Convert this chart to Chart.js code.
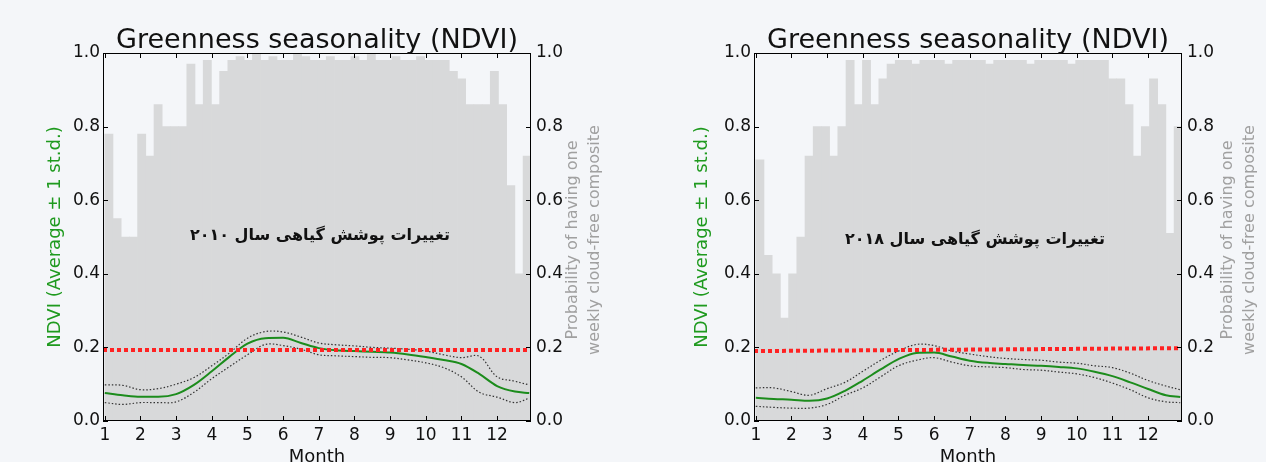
<!DOCTYPE html>
<html>
<head>
<meta charset="utf-8">
<script src="https://cdn.jsdelivr.net/npm/chart.js@4.4.0/dist/chart.umd.min.js"></script>
<style>
  html, body { margin: 0; padding: 0; background: #f4f6f9; }
  #wrap { position: relative; width: 1266px; height: 462px; overflow: hidden; }
  .panel { position: absolute; top: 0; width: 633px; height: 462px; }
</style>
</head>
<body>
<div id="wrap">
  <div class="panel" style="left:0"><canvas id="chart2010"></canvas></div>
  <div class="panel" style="left:633px"><canvas id="chart2018"></canvas></div>
</div>
<script>
// x positions (month) of the sampled NDVI curve points
const curveMonths = [1, 1.5, 2, 2.5, 3, 3.5, 4, 4.5, 5, 5.5, 6, 6.5, 7, 7.5, 8, 8.5, 9, 9.5, 10, 10.5, 11, 11.5, 12, 12.5, 12.9];
const monthTicks = [1, 2, 3, 4, 5, 6, 7, 8, 9, 10, 11, 12];
const valueTicks = [0, 0.2, 0.4, 0.6, 0.8, 1.0];
const thresholdMonths = [0.95, 12.95];

// 2010
const mean2010  = [0.076, 0.070, 0.066, 0.066, 0.073, 0.098, 0.135, 0.175, 0.210, 0.225, 0.226, 0.212, 0.198, 0.192, 0.190, 0.188, 0.186, 0.181, 0.174, 0.166, 0.155, 0.128, 0.095, 0.080, 0.076];
const upper2010 = [0.098, 0.097, 0.085, 0.088, 0.100, 0.118, 0.150, 0.185, 0.225, 0.243, 0.242, 0.228, 0.212, 0.207, 0.204, 0.200, 0.198, 0.195, 0.190, 0.180, 0.172, 0.176, 0.120, 0.108, 0.098];
const lower2010 = [0.050, 0.045, 0.050, 0.050, 0.052, 0.078, 0.115, 0.148, 0.180, 0.208, 0.205, 0.195, 0.180, 0.177, 0.175, 0.173, 0.172, 0.166, 0.158, 0.145, 0.120, 0.078, 0.065, 0.050, 0.062];
const threshold2010 = [0.193, 0.193];
const cloudFree2010 = [
  0.78, 0.55, 0.50, 0.50, 0.78, 0.72, 0.86, 0.80, 0.80, 0.80, 0.97, 0.86, 0.98,
  0.86, 0.95, 0.98, 0.99, 0.98, 1.00, 0.98, 0.99, 0.98, 0.98, 1.00, 0.99, 0.98,
  0.98, 0.99, 0.98, 0.98, 0.99, 0.98, 1.00, 0.98, 0.98, 0.99, 0.98, 0.98, 0.99,
  0.98, 0.98, 0.98, 0.95, 0.93, 0.86, 0.86, 0.86, 0.95, 0.86, 0.64, 0.40, 0.72
];

// 2018
const mean2018  = [0.063, 0.060, 0.058, 0.055, 0.061, 0.082, 0.110, 0.140, 0.168, 0.185, 0.186, 0.175, 0.164, 0.158, 0.155, 0.152, 0.150, 0.147, 0.143, 0.134, 0.122, 0.105, 0.087, 0.070, 0.065];
const upper2018 = [0.090, 0.090, 0.080, 0.070, 0.088, 0.105, 0.135, 0.165, 0.190, 0.208, 0.205, 0.190, 0.182, 0.175, 0.170, 0.167, 0.165, 0.160, 0.157, 0.150, 0.145, 0.130, 0.110, 0.095, 0.085];
const lower2018 = [0.040, 0.037, 0.035, 0.035, 0.045, 0.070, 0.090, 0.120, 0.150, 0.165, 0.172, 0.160, 0.150, 0.147, 0.145, 0.140, 0.138, 0.133, 0.128, 0.118, 0.103, 0.085, 0.063, 0.052, 0.050];
const threshold2018 = [0.190, 0.198];
const cloudFree2018 = [
  0.71, 0.45, 0.40, 0.28, 0.40, 0.50, 0.72, 0.80, 0.80, 0.72, 0.80, 0.98, 0.86,
  0.98, 0.86, 0.93, 0.97, 0.98, 0.98, 0.97, 0.98, 0.98, 0.98, 0.97, 0.98, 0.98,
  0.98, 0.98, 0.97, 0.98, 0.98, 0.98, 0.98, 0.97, 0.98, 0.98, 0.98, 0.98, 0.97,
  0.98, 0.98, 0.98, 0.98, 0.93, 0.93, 0.86, 0.72, 0.80, 0.93, 0.86, 0.51, 0.80
];

const FONT = '"DejaVu Sans", "Liberation Sans", sans-serif';

// week k -> centre of the week in months
const weekMonth = k => 1 + (k + 0.5) * 7 / 30.44;
const pts = (xs, ys) => xs.map((x, i) => ({ x: x, y: ys[i] }));

const panelPlugin = {
  id: 'panel',
  afterDraw(chart, args, o) {
    const { ctx, chartArea: a } = chart;
    const xs = chart.scales.x, ys = chart.scales.y;
    ctx.save();
    // frame
    ctx.strokeStyle = '#000';
    ctx.lineWidth = 1;
    ctx.strokeRect(a.left + 0.5, a.top + 0.5, a.right - a.left - 1, a.bottom - a.top - 1);
    // inward ticks
    ctx.beginPath();
    monthTicks.forEach(m => {
      const px = Math.round(xs.getPixelForValue(m)) + 0.5;
      ctx.moveTo(px, a.bottom); ctx.lineTo(px, a.bottom - 5);
      ctx.moveTo(px, a.top); ctx.lineTo(px, a.top + 5);
    });
    valueTicks.forEach(v => {
      const py = Math.round(ys.getPixelForValue(v)) + 0.5;
      ctx.moveTo(a.left, py); ctx.lineTo(a.left + 5, py);
      ctx.moveTo(a.right, py); ctx.lineTo(a.right - 5, py);
    });
    ctx.stroke();

    // title
    ctx.fillStyle = '#111';
    ctx.textAlign = 'center';
    ctx.textBaseline = 'alphabetic';
    ctx.font = '27px ' + FONT;
    ctx.fillText('Greenness seasonality (NDVI)', (a.left + a.right) / 2, a.top - 5);

    // x title
    ctx.font = '18px ' + FONT;
    ctx.textBaseline = 'middle';
    ctx.fillText('Month', (a.left + a.right) / 2, a.bottom + 36);

    // left y title
    ctx.save();
    ctx.translate(a.left - o.leftTitleGap, (a.top + a.bottom) / 2);
    ctx.rotate(-Math.PI / 2);
    ctx.fillStyle = '#1f9a1f';
    ctx.font = '18px ' + FONT;
    ctx.fillText('NDVI (Average \u00b1 1 st.d.)', 0, 0);
    ctx.restore();

    // right y title (two lines)
    ctx.save();
    ctx.fillStyle = '#a0a0a0';
    ctx.font = '16px ' + FONT;
    ctx.translate(a.right + o.rightTitleGap, (a.top + a.bottom) / 2 + 3);
    ctx.rotate(-Math.PI / 2);
    ctx.fillText('Probability of having one', 0, 0);
    ctx.fillText('weekly cloud-free composite', 0, 22);
    ctx.restore();

    // persian note
    ctx.fillStyle = '#111';
    ctx.font = 'bold 16px ' + FONT;
    ctx.direction = 'rtl';
    ctx.textAlign = 'center';
    ctx.fillText(o.note, o.noteX, o.noteY);
    ctx.restore();
  }
};

function makeChart(id, mean, upper, lower, threshold, cloudFree, cfg) {
  const dotted = { borderColor: '#333', borderWidth: 1.2, borderDash: [1.5, 2], pointRadius: 0, tension: 0.35, fill: false, yAxisID: 'y', order: 2 };
  new Chart(document.getElementById(id), {
    type: 'bar',
    data: {
      datasets: [
        {
          type: 'bar',
          data: pts(cloudFree.map((v, k) => weekMonth(k)), cloudFree),
          backgroundColor: '#d8d9da',
          borderWidth: 0,
          barPercentage: 1,
          categoryPercentage: 1,
          yAxisID: 'y2',
          order: 10
        },
        Object.assign({ type: 'line', data: pts(curveMonths, upper) }, dotted),
        Object.assign({ type: 'line', data: pts(curveMonths, lower) }, dotted),
        {
          type: 'line',
          data: pts(curveMonths, mean),
          borderColor: '#1c8c1c',
          borderWidth: 2,
          pointRadius: 0,
          cubicInterpolationMode: 'monotone',
          yAxisID: 'y',
          order: 1
        },
        {
          type: 'line',
          data: pts(thresholdMonths, threshold),
          borderColor: '#ff2222',
          borderWidth: 4,
          borderDash: [4, 3],
          pointRadius: 0,
          yAxisID: 'y',
          order: 0
        }
      ]
    },
    options: {
      responsive: true,
      maintainAspectRatio: false,
      animation: false,
      layout: { padding: { top: 53, bottom: 0, left: 0, right: 0 } },
      plugins: {
        legend: { display: false },
        tooltip: { enabled: false },
        panel: cfg
      },
      scales: {
        x: {
          type: 'linear',
          offset: false,
          min: 0.95,
          max: 12.95,
          afterBuildTicks: s => { s.ticks = monthTicks.map(v => ({ value: v })); },
          afterFit: s => { s.height = 41; },
          grid: { display: false, offset: false, drawTicks: false, tickLength: 0 },
          border: { display: false },
          ticks: { color: '#111', padding: 4, font: { family: FONT, size: 17 } }
        },
        y: {
          position: 'left',
          min: 0,
          max: 1,
          afterBuildTicks: s => { s.ticks = valueTicks.map(v => ({ value: v })); },
          afterFit: s => { s.width = cfg.leftWidth; },
          grid: { display: false, drawTicks: false, tickLength: 0 },
          border: { display: false },
          ticks: { color: '#111', padding: 3, font: { family: FONT, size: 17 }, callback: v => v.toFixed(1) }
        },
        y2: {
          position: 'right',
          min: 0,
          max: 1,
          afterBuildTicks: s => { s.ticks = valueTicks.map(v => ({ value: v })); },
          afterFit: s => { s.width = cfg.rightWidth; },
          grid: { display: false, drawTicks: false, tickLength: 0 },
          border: { display: false },
          ticks: { color: '#111', padding: 5, font: { family: FONT, size: 17 }, callback: v => v.toFixed(1) }
        }
      }
    },
    plugins: [panelPlugin]
  });
}

makeChart('chart2010', mean2010, upper2010, lower2010, threshold2010, cloudFree2010, {
  leftWidth: 103, rightWidth: 102, leftTitleGap: 48, rightTitleGap: 42,
  note: 'تغییرات پوشش گیاهی سال ۲۰۱۰', noteX: 320, noteY: 236
});
makeChart('chart2018', mean2018, upper2018, lower2018, threshold2018, cloudFree2018, {
  leftWidth: 121, rightWidth: 84, leftTitleGap: 52, rightTitleGap: 46,
  note: 'تغییرات پوشش گیاهی سال ۲۰۱۸', noteX: 342, noteY: 240
});
</script>
</body>
</html>
